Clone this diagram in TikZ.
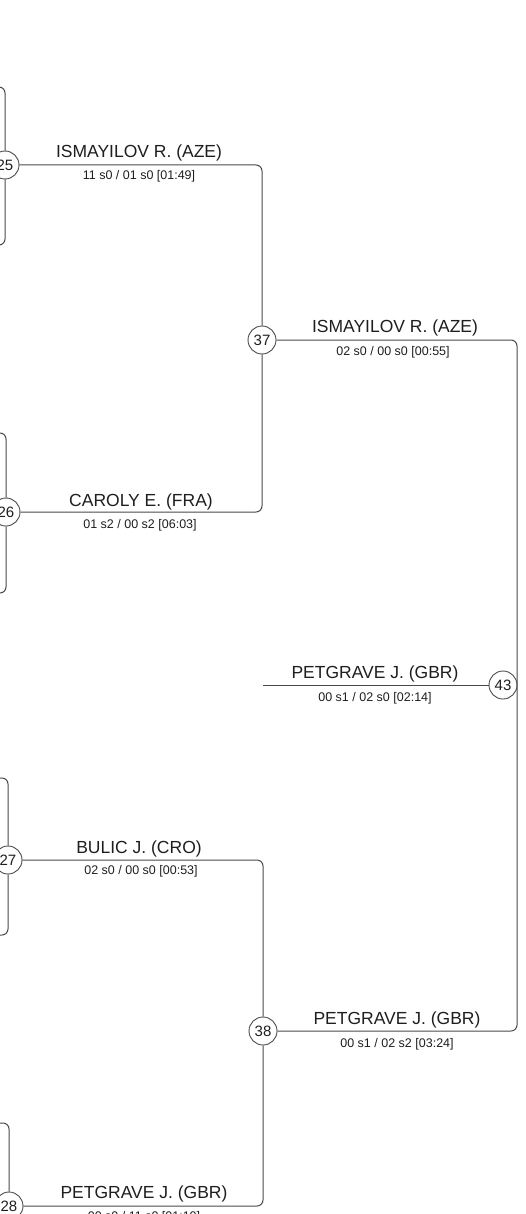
\documentclass[tikz,border=0pt]{standalone}
\usepackage{fontspec}
\setmainfont{Liberation Sans}
\definecolor{brkInk}{HTML}{1E1E1E}
\definecolor{brkLine}{HTML}{4A4A4A}
\tikzset{
  brk line/.style={draw=brkLine, line width=1pt, rounded corners=6pt},
  brk match/.style={circle, draw=brkLine, fill=white, line width=0.9pt, minimum size=28pt, inner sep=0pt, font=\fontsize{15}{15}\selectfont, text=brkInk},
  brk name/.style={anchor=base, inner sep=0pt, font=\fontsize{17.5}{18}\selectfont, text=brkInk},
  brk score/.style={anchor=base, inner sep=0pt, font=\fontsize{12.5}{13}\selectfont, text=brkInk},
}

\begin{document}
\begin{tikzpicture}[x=1pt, y=-1pt]
  \useasboundingbox (0,0) rectangle (526,1214);
  % First column: match circles and the brackets coming in from the left
  \node[brk match] (m25) at (5,165) {25};
  \node[brk match] (m26) at (6,512) {26};
  \node[brk match] (m27) at (8,860) {27};
  \node[brk match] (m28) at (9,1206) {28};
  \coordinate (t25) at (-20,87);   \coordinate (b25) at (-20,245);
  \coordinate (t26) at (-20,433);  \coordinate (b26) at (-20,593);
  \coordinate (t27) at (-20,778);  \coordinate (b27) at (-20,935);
  \coordinate (t28) at (-20,1123);
  \draw[brk line] (t25) -| (m25);  \draw[brk line] (b25) -| (m25);
  \draw[brk line] (t26) -| (m26);  \draw[brk line] (b26) -| (m26);
  \draw[brk line] (t27) -| (m27);  \draw[brk line] (b27) -| (m27);
  \draw[brk line] (t28) -| (m28);
  % Second column: semi-final circles
  \node[brk match] (m37) at (262,340) {37};
  \node[brk match] (m38) at (263,1031) {38};
  \draw[brk line] (m25) -| (m37);
  \draw[brk line] (m26) -| (m37);
  \draw[brk line] (m27) -| (m38);
  \draw[brk line] (m28) -| (m38);
  % Final: match 43 beside the right vertical
  \node[brk match] (m43) at (503,685) {43};
  \coordinate (c43) at (517,685);
  \coordinate (p43) at (263,685);
  \draw[brk line] (m37) -| (c43) |- (m38);
  \draw[brk line] (p43) -- (m43);
  % Winners and scores, left column
  \node[brk name] (n25) at (139,158) {ISMAYILOV R. (AZE)};
  \node[brk score] (s25) at (139,180) {11 s0 / 01 s0 [01:49]};
  \node[brk name] (n26) at (141,506) {CAROLY E. (FRA)};
  \node[brk score] (s26) at (140,528) {01 s2 / 00 s2 [06:03]};
  \node[brk name] (n27) at (139,853) {BULIC J. (CRO)};
  \node[brk score] (s27) at (141,874) {02 s0 / 00 s0 [00:53]};
  \node[brk name] (n28) at (144,1198) {PETGRAVE J. (GBR)};
  \node[brk score] (s28) at (144,1220) {00 s0 / 11 s0 [01:10]};
  % Winners and scores, right column
  \node[brk name] (n37) at (395,332) {ISMAYILOV R. (AZE)};
  \node[brk score] (s37) at (393,355) {02 s0 / 00 s0 [00:55]};
  \node[brk name] (n43) at (375,678) {PETGRAVE J. (GBR)};
  \node[brk score] (s43) at (375,701) {00 s1 / 02 s0 [02:14]};
  \node[brk name] (n38) at (397,1024) {PETGRAVE J. (GBR)};
  \node[brk score] (s38) at (397,1047) {00 s1 / 02 s2 [03:24]};
\end{tikzpicture}
\end{document}
